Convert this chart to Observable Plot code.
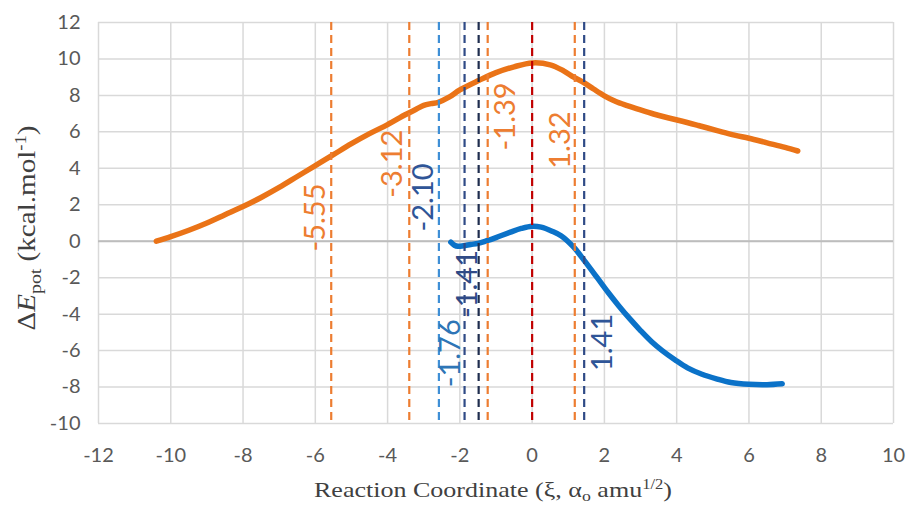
<!DOCTYPE html>
<html>
<head>
<meta charset="utf-8">
<script src="https://cdn.jsdelivr.net/npm/d3@7"></script>
<script src="https://cdn.jsdelivr.net/npm/@observablehq/plot@0.6"></script>
<style>
  body { margin: 0; background: #fff; }
  #chart { width: 907px; height: 505px; }
</style>
</head>
<body>
<div id="chart"></div>
<script>
// ---- data ----
const upperX = [-10.4, -10, -9.5, -9, -8.5, -8, -7.5, -7, -6.5, -6, -5.5, -5, -4.5, -4, -3.5, -3.2, -3, -2.8, -2.6, -2.3, -2, -1.5, -1, -0.5, 0, 0.5, 0.87, 1.15, 1.43, 1.7, 2, 2.3, 2.63, 3, 3.36, 3.7, 4.1, 4.6, 5.12, 5.6, 6, 6.5, 7, 7.35];
const upperE = [0, 0.25, 0.6, 1.0, 1.45, 1.9, 2.4, 2.95, 3.55, 4.15, 4.75, 5.35, 5.9, 6.4, 6.95, 7.25, 7.45, 7.55, 7.62, 7.9, 8.3, 8.8, 9.25, 9.57, 9.78, 9.68, 9.35, 9.0, 8.7, 8.35, 7.98, 7.68, 7.44, 7.2, 6.98, 6.8, 6.61, 6.35, 6.07, 5.82, 5.65, 5.4, 5.15, 4.95];

const lowerX = [-2.25, -2.15, -2.05, -1.9, -1.7, -1.5, -1.25, -1, -0.6, -0.3, 0, 0.25, 0.55, 0.8, 1.15, 1.45, 1.8, 2.1, 2.4, 2.7, 3.0, 3.3, 3.6, 3.95, 4.3, 4.7, 5.1, 5.5, 6.0, 6.5, 6.92];
const lowerE = [-0.05, -0.22, -0.28, -0.25, -0.18, -0.12, 0.03, 0.2, 0.5, 0.7, 0.82, 0.77, 0.55, 0.3, -0.33, -1.08, -2.0, -2.8, -3.55, -4.25, -4.9, -5.5, -6.0, -6.5, -6.95, -7.3, -7.55, -7.75, -7.85, -7.87, -7.82];

const markerX = [-5.56, -3.40, -2.58, -1.87, -1.48, -1.23, 0, 1.18, 1.44];
const markerKind = ["orange", "orange", "lightblue", "navy", "dark", "orange", "red", "orange", "navy"];

const labelText = ["-5.55", "-3.12", "-2.10", "-1.39", "1.32", "-1.76", "-1.41", "1.41"];
const labelX = [-6.0, -3.87, -3.0, -0.74, 0.78, -2.26, -1.78, 1.94];
const labelY = [1.3, 4.25, 2.4, 6.85, 5.55, -6.15, -2.35, -5.55];
const labelKind = ["orange", "orange", "blue", "orange", "orange", "midblue", "navy", "blue"];

const xTicks = [-12, -10, -8, -6, -4, -2, 0, 2, 4, 6, 8, 10];
const yTicks = [-10, -8, -6, -4, -2, 0, 2, 4, 6, 8, 10, 12];

// ---- styles ----
const palette = {
  orange: "#ED7D31", lightblue: "#3F8FD6", navy: "#2F4A86", dark: "#1F2D4E",
  red: "#C00000", blue: "#2F5597", midblue: "#2E75B6"
};

const upper = upperX.map((x, i) => ({x, y: upperE[i]}));
const lower = lowerX.map((x, i) => ({x, y: lowerE[i]}));
const markers = markerX.map((x, i) => ({x, c: palette[markerKind[i]]}));
const labels = labelText.map((t, i) => ({t, x: labelX[i], y: labelY[i], c: palette[labelKind[i]]}));

const plot = Plot.plot({
  width: 907,
  height: 505,
  marginLeft: 98,
  marginRight: 14,
  marginTop: 22,
  marginBottom: 82,
  style: {fontFamily: "Lato, 'Open Sans', sans-serif", background: "#fff"},
  x: {domain: [-12, 10]},
  y: {domain: [-10, 12]},
  marks: [
    Plot.gridX(xTicks, {stroke: "#d9d9d9", strokeOpacity: 1, strokeWidth: 1.5}),
    Plot.gridY(yTicks, {stroke: "#d9d9d9", strokeOpacity: 1, strokeWidth: 1.5}),
    Plot.ruleY([0], {stroke: "#bdbdbd", strokeWidth: 2}),
    Plot.axisX(xTicks, {tickSize: 0, tickPadding: 24, fontSize: 20, fill: "#595959", tickFormat: d => String(d), label: null}),
    Plot.axisY(yTicks, {tickSize: 0, tickPadding: 18, fontSize: 20, fill: "#595959", tickFormat: d => String(d), label: null}),
    Plot.line(upper, {x: "x", y: "y", stroke: "#EA7317", strokeWidth: 5.5, curve: "catmull-rom", strokeLinecap: "round", strokeLinejoin: "round"}),
    Plot.line(lower, {x: "x", y: "y", stroke: "#0B72C8", strokeWidth: 5.5, curve: "catmull-rom", strokeLinecap: "round", strokeLinejoin: "round"}),
    Plot.ruleX(markers, {x: "x", stroke: "c", strokeWidth: 2.2, strokeDasharray: "8,5"}),
    Plot.text(labels, {x: "x", y: "y", text: "t", fill: "c", rotate: -90, fontSize: 29})
  ]
});

document.getElementById("chart").appendChild(plot);

// axis titles with sub/superscripts
const svg = d3.select(plot);
const yt = svg.append("text")
  .attr("transform", "translate(35,228) rotate(-90)")
  .attr("text-anchor", "middle")
  .attr("font-family", "'Liberation Serif', 'Times New Roman', serif")
  .attr("font-size", 25)
  .attr("textLength", 205)
  .attr("lengthAdjust", "spacingAndGlyphs")
  .attr("fill", "#404040");
yt.append("tspan").text("Δ");
yt.append("tspan").attr("font-style", "italic").text("E");
yt.append("tspan").attr("font-size", 17).attr("dy", 6).text("pot");
yt.append("tspan").attr("dy", -6).text(" (kcal.mol");
yt.append("tspan").attr("font-size", 16).attr("dy", -9).text("-1");
yt.append("tspan").attr("dy", 9).text(")");

const xt = svg.append("text")
  .attr("x", 493).attr("y", 497)
  .attr("text-anchor", "middle")
  .attr("font-family", "'Liberation Serif', 'Times New Roman', serif")
  .attr("font-size", 22)
  .attr("textLength", 358)
  .attr("lengthAdjust", "spacingAndGlyphs")
  .attr("fill", "#404040");
xt.append("tspan").text("Reaction Coordinate (ξ, α");
xt.append("tspan").attr("font-size", 15).attr("dy", 4).text("o");
xt.append("tspan").attr("dy", -4).text(" amu");
xt.append("tspan").attr("font-size", 14).attr("dy", -8).text("1/2");
xt.append("tspan").attr("dy", 8).text(")");
</script>
</body>
</html>
